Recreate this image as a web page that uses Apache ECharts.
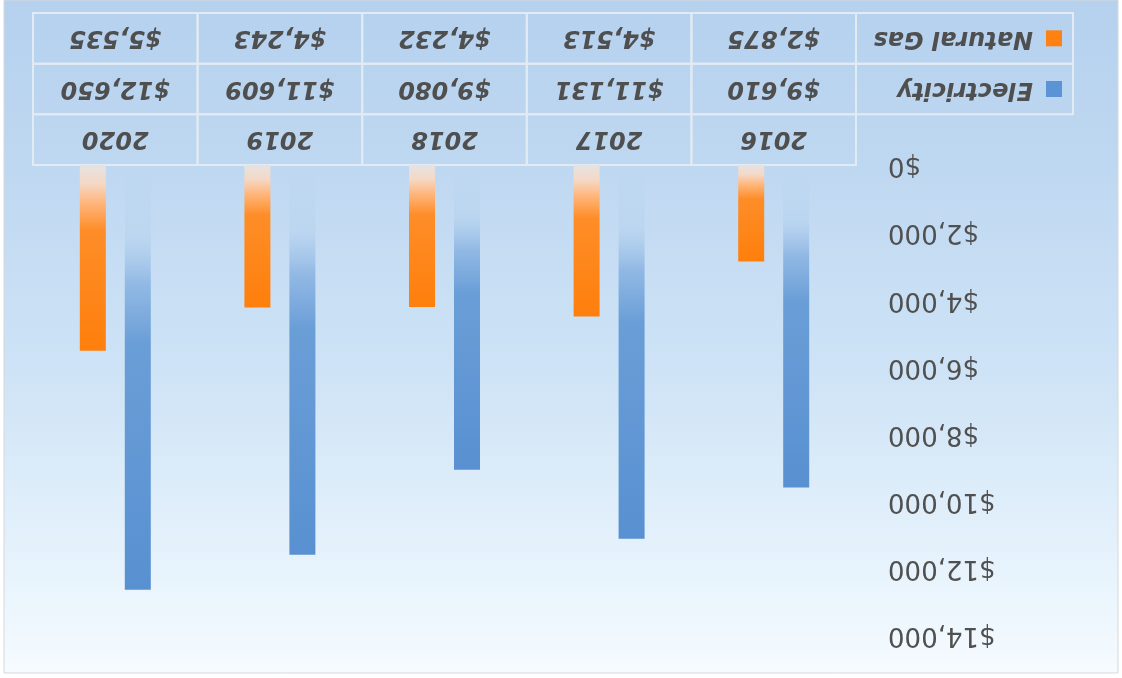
<!DOCTYPE html>
<html>
<head>
<meta charset="utf-8">
<title>Energy Costs</title>
<script src="https://cdn.jsdelivr.net/npm/echarts@6/dist/echarts.min.js"></script>
<style>
  html, body { margin: 0; padding: 0; background: #ffffff; }
  /* the whole figure is displayed turned half a turn */
  #chart { width: 1122px; height: 678px; transform: rotate(180deg); }
</style>
</head>
<body>
<div id="chart"></div>
<script>
// ---- data ----
const years = ['2016', '2017', '2018', '2019', '2020'];
const electricity = [9610, 11131, 9080, 11609, 12650];
const naturalGas = [2875, 4513, 4232, 4243, 5535];
const seriesNames = ['Electricity', 'Natural Gas'];
const tableRows = ['Year', 'Electricity', 'Natural Gas'];
const yMin = 0, yMax = 14000, yStep = 2000;

// ---- layout ----
const W = 1122, H = 678;
const plotLeft = 266, plotRight = 33, plotTop = 43;
const tableTop = 513, tableBottom = 665;
const legendColLeft = 49;
const rowH = (tableBottom - tableTop) / tableRows.length;

const BLUE = '#5a94d4';
const ORANGE = '#fd8213';
const LINE = '#e2eaf3';
const TEXT = '#4f4f4f';
const FONT = '"DejaVu Sans", Verdana, sans-serif';

const money = v => '$' + v.toLocaleString('en-US');

// bars fade out toward the zero line
const blueFill = new echarts.graphic.LinearGradient(0, 0, 0, 1, [
  { offset: 0, color: '#5890d1' },
  { offset: 0.58, color: '#6a9ed7' },
  { offset: 0.72, color: 'rgba(110,160,218,0.6)' },
  { offset: 0.83, color: 'rgba(140,182,228,0.15)' },
  { offset: 1, color: 'rgba(170,200,235,0)' }
]);
const orangeFill = new echarts.graphic.LinearGradient(0, 0, 0, 1, [
  { offset: 0, color: '#fe7f0c' },
  { offset: 0.65, color: '#fe8d28' },
  { offset: 0.8, color: '#ffb77e' },
  { offset: 0.9, color: '#f5d8c6' },
  { offset: 1, color: '#e6e3e2' }
]);

// table cells: [column, row, text]
const tableCells = [];
years.forEach((y, i) => {
  tableCells.push([i, 0, y]);
  tableCells.push([i, 1, money(electricity[i])]);
  tableCells.push([i, 2, money(naturalGas[i])]);
});

const chart = echarts.init(document.getElementById('chart'), null, { renderer: 'canvas' });

const legendBase = {
  left: 60,
  padding: 0,
  orient: 'horizontal',
  itemWidth: 16,
  itemHeight: 16,
  icon: 'rect',
  selectedMode: false,
  textStyle: {
    fontFamily: FONT, fontSize: 24, fontWeight: 'bold', fontStyle: 'italic',
    color: TEXT, padding: [0, 0, 0, 8], lineHeight: 30
  }
};

chart.setOption({
  backgroundColor: '#ffffff',
  animation: false,
  graphic: [
    {
      type: 'rect', z: -10, silent: true,
      shape: { x: 4, y: 5, width: W - 8, height: H - 5 },
      style: {
        fill: new echarts.graphic.LinearGradient(0, 0, 0, 1, [
          { offset: 0, color: '#f6fbff' },
          { offset: 0.12, color: '#eaf5fd' },
          { offset: 0.45, color: '#cee3f6' },
          { offset: 0.75, color: '#bfd8f1' },
          { offset: 1, color: '#b5d1ee' }
        ]),
        stroke: '#d4d8dc', lineWidth: 1
      }
    },
    // legend column of the data table
    {
      type: 'rect', silent: true,
      shape: { x: legendColLeft, y: tableTop + rowH, width: plotLeft - legendColLeft, height: rowH },
      style: { fill: 'none', stroke: LINE, lineWidth: 2 }
    },
    {
      type: 'rect', silent: true,
      shape: { x: legendColLeft, y: tableTop + 2 * rowH, width: plotLeft - legendColLeft, height: rowH },
      style: { fill: 'none', stroke: LINE, lineWidth: 2 }
    }
  ],
  legend: [
    Object.assign({}, legendBase, {
      top: tableTop + rowH * 1.5 - 15,
      data: [{ name: seriesNames[0], itemStyle: { color: BLUE } }]
    }),
    Object.assign({}, legendBase, {
      top: tableTop + rowH * 2.5 - 15,
      data: [{ name: seriesNames[1], itemStyle: { color: ORANGE } }]
    })
  ],
  grid: [
    { left: plotLeft, right: plotRight, top: plotTop, bottom: H - tableTop },
    { left: plotLeft, right: plotRight, top: tableTop, bottom: H - tableBottom }
  ],
  xAxis: [
    {
      type: 'category', gridIndex: 0, data: years,
      axisLine: { show: false }, axisTick: { show: false }, axisLabel: { show: false }
    },
    {
      type: 'category', gridIndex: 1, data: years,
      axisLine: { show: false }, axisTick: { show: false }, axisLabel: { show: false }
    }
  ],
  yAxis: [
    {
      type: 'value', gridIndex: 0, min: yMin, max: yMax, interval: yStep,
      axisLine: { show: false }, axisTick: { show: false }, splitLine: { show: false },
      axisLabel: {
        formatter: v => money(v), margin: 32,
        fontFamily: FONT, fontSize: 26, color: '#505050'
      }
    },
    {
      type: 'category', gridIndex: 1, data: tableRows, inverse: true,
      axisLine: { show: false }, axisTick: { show: false }, axisLabel: { show: false }
    }
  ],
  series: [
    {
      name: seriesNames[0], type: 'bar', xAxisIndex: 0, yAxisIndex: 0,
      data: electricity, barWidth: 26, barGap: '73%',
      itemStyle: { color: blueFill }
    },
    {
      name: seriesNames[1], type: 'bar', xAxisIndex: 0, yAxisIndex: 0,
      data: naturalGas, barWidth: 26, barGap: '73%',
      itemStyle: { color: orangeFill }
    },
    {
      name: 'table', type: 'custom', xAxisIndex: 1, yAxisIndex: 1,
      data: tableCells, silent: true,
      renderItem: (params, api) => {
        const c = api.coord([api.value(0), api.value(1)]);
        const s = api.size([1, 1]);
        const text = tableCells[params.dataIndex][2];
        return {
          type: 'group',
          children: [
            {
              type: 'rect',
              shape: { x: c[0] - s[0] / 2, y: c[1] - s[1] / 2, width: s[0], height: s[1] },
              style: { fill: 'none', stroke: LINE, lineWidth: 2 }
            },
            {
              type: 'text',
              style: {
                text: text, x: c[0], y: c[1] + 1, align: 'center', verticalAlign: 'middle',
                font: 'italic bold 24px ' + FONT, fill: TEXT
              }
            }
          ]
        };
      }
    }
  ]
});
</script>
</body>
</html>
